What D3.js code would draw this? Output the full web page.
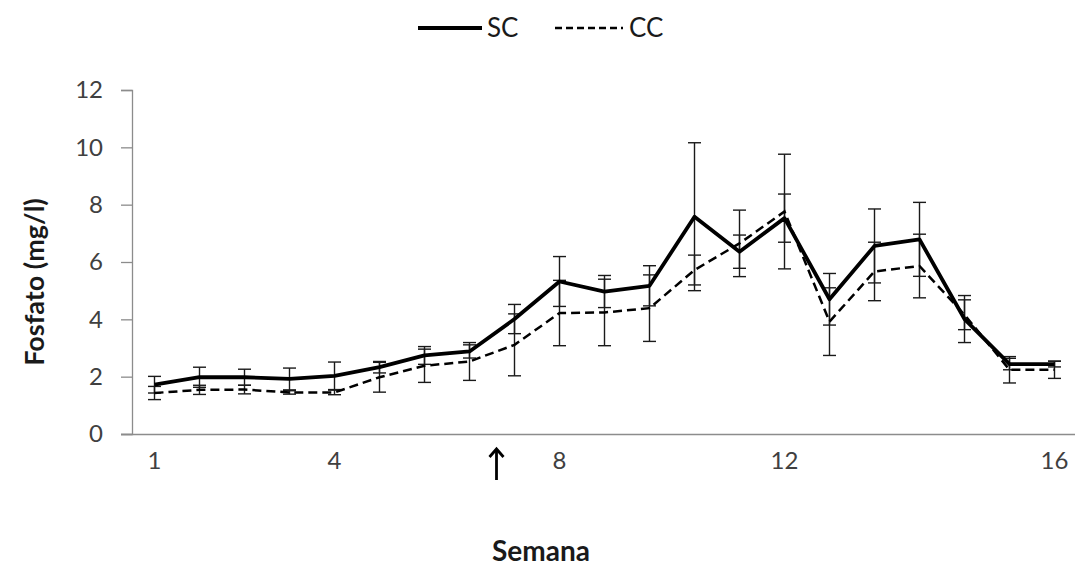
<!DOCTYPE html>
<html>
<head>
<meta charset="utf-8">
<script src="https://cdn.jsdelivr.net/npm/d3@7"></script>
<style>
  body { margin: 0; background: #fff; }
  svg { display: block; font-family: Lato, "Noto Sans", sans-serif; overflow: visible; }
</style>
</head>
<body>
<div id="chart"></div>
<script>
// Phosphate by sampling point, two treatments (mean and error)
const weekLabels = ['1', '', '', '', '4', '', '', '', '', '8', '', '', '', '', '12', '', '', '', '', '', '16'];
const sc = [1.72, 1.98, 1.98, 1.92, 2.03, 2.33, 2.74, 2.88, 4.01, 5.32, 4.97, 5.17, 7.58, 6.36, 7.53, 4.70, 6.56, 6.79, 4.01, 2.44, 2.44];
const scErr = [0.29, 0.35, 0.28, 0.38, 0.48, 0.20, 0.31, 0.23, 0.51, 0.87, 0.56, 0.70, 2.58, 0.58, 0.84, 0.90, 1.29, 1.29, 0.82, 0.20, 0.10];
const cc = [1.43, 1.54, 1.55, 1.45, 1.45, 1.98, 2.38, 2.53, 3.11, 4.22, 4.24, 4.39, 5.72, 6.65, 7.76, 3.92, 5.67, 5.86, 4.16, 2.24, 2.24];
const ccErr = [0.23, 0.16, 0.15, 0.06, 0.08, 0.52, 0.58, 0.66, 1.08, 1.14, 1.16, 1.16, 0.52, 1.16, 2.00, 1.18, 1.02, 1.11, 0.52, 0.46, 0.30];
const yTicks = [0, 2, 4, 6, 8, 10, 12];
const arrowAt = 7.6; // treatment start, in sample index units

const width = 1077, height = 571;
const margin = { top: 90, right: 0, bottom: 137, left: 132 };
const innerWidth = width - margin.left - margin.right;
const innerHeight = height - margin.top - margin.bottom;

const svg = d3.select('#chart').append('svg')
  .attr('width', width)
  .attr('height', height);

const g = svg.append('g')
  .attr('transform', `translate(${margin.left},${margin.top})`);

const idx = d3.range(sc.length);
const x = d3.scaleBand().domain(idx).range([0, innerWidth]);
const cx = i => x(i) + x.bandwidth() / 2;
const y = d3.scaleLinear().domain([0, 12]).range([innerHeight, 0]);

const axisColor = '#8c8c8c';
const textColor = '#404040';

// Y axis
const yAxis = g.append('g')
  .call(d3.axisLeft(y).tickValues(yTicks).tickSize(11).tickPadding(18));
yAxis.selectAll('line, path').attr('stroke', axisColor).attr('stroke-width', 1.3);
yAxis.selectAll('text').attr('fill', textColor).attr('font-size', '24px').attr('font-family', 'Lato');

// X axis (labels only on some samples)
const xAxis = g.append('g')
  .attr('transform', `translate(0,${innerHeight})`)
  .call(d3.axisBottom(x).tickSize(0).tickPadding(18)
    .tickValues(idx.filter(i => weekLabels[i] !== ''))
    .tickFormat(i => weekLabels[i]));
xAxis.select('path').attr('stroke', axisColor).attr('stroke-width', 1.3)
  .attr('d', `M-11,0.5H${innerWidth - 2}`);
xAxis.selectAll('text').attr('fill', textColor).attr('font-size', '24px').attr('font-family', 'Lato');

// Error bars
function drawErrors(values, errs) {
  const cap = 6.5;
  const eb = g.append('g').attr('stroke', '#1a1a1a').attr('stroke-width', 1.4);
  values.forEach((v, i) => {
    const x0 = cx(i), y1 = y(v + errs[i]), y2 = y(v - errs[i]);
    eb.append('line').attr('x1', x0).attr('x2', x0).attr('y1', y1).attr('y2', y2);
    eb.append('line').attr('x1', x0 - cap).attr('x2', x0 + cap).attr('y1', y1).attr('y2', y1);
    eb.append('line').attr('x1', x0 - cap).attr('x2', x0 + cap).attr('y1', y2).attr('y2', y2);
  });
}
drawErrors(cc, ccErr);
drawErrors(sc, scErr);

const line = d3.line().x((d, i) => cx(i)).y(d => y(d));

g.append('path')
  .datum(cc)
  .attr('fill', 'none')
  .attr('stroke', '#000')
  .attr('stroke-width', 2.5)
  .attr('stroke-dasharray', '9,5')
  .attr('d', line);

g.append('path')
  .datum(sc)
  .attr('fill', 'none')
  .attr('stroke', '#000')
  .attr('stroke-width', 3.8)
  .attr('stroke-linejoin', 'round')
  .attr('d', line);

// Arrow marking treatment start
const ax = x(Math.floor(arrowAt)) + x.bandwidth() / 2 + (arrowAt % 1) * x.step();
const arrow = svg.append('g').attr('transform', `translate(${margin.left + ax},${margin.top + innerHeight})`);
arrow.append('line').attr('x1', 0).attr('x2', 0).attr('y1', 15).attr('y2', 46)
  .attr('stroke', '#000').attr('stroke-width', 2.8);
arrow.append('path').attr('d', 'M-7,23 L0,15 L7,23')
  .attr('fill', 'none').attr('stroke', '#000').attr('stroke-width', 2.8);

// Axis titles
svg.append('text')
  .attr('x', 541)
  .attr('y', 561)
  .attr('text-anchor', 'middle')
  .attr('font-size', '28px')
  .attr('font-weight', 'bold')
  .attr('fill', '#1a1a1a')
  .text('Semana');

svg.append('text')
  .attr('transform', `translate(44,282) rotate(-90)`)
  .attr('text-anchor', 'middle')
  .attr('font-size', '27px')
  .attr('font-weight', 'bold')
  .attr('fill', '#1a1a1a')
  .text('Fosfato (mg/l)');

// Legend
const legend = svg.append('g').attr('transform', 'translate(418,28)');
legend.append('line').attr('x1', 0).attr('x2', 64).attr('y1', 0).attr('y2', 0)
  .attr('stroke', '#000').attr('stroke-width', 4);
legend.append('text').attr('x', 69).attr('y', 9).attr('font-size', '26px').attr('fill', '#1a1a1a').text('SC');
legend.append('line').attr('x1', 137).attr('x2', 205).attr('y1', 0).attr('y2', 0)
  .attr('stroke', '#000').attr('stroke-width', 2.5).attr('stroke-dasharray', '7,4');
legend.append('text').attr('x', 211).attr('y', 9).attr('font-size', '26px').attr('fill', '#1a1a1a').text('CC');
</script>
</body>
</html>
